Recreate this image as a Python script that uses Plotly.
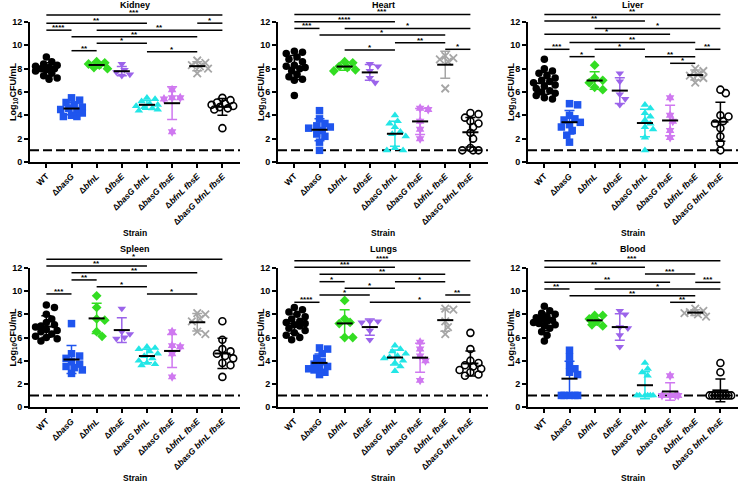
import math
import plotly.graph_objects as go

# ---------------- data ----------------
strains = ["WT", "Δ<i>basG</i>", "Δ<i>bfnL</i>", "Δ<i>fbsE</i>", "Δ<i>basG bfnL</i>",
           "Δ<i>basG fbsE</i>", "Δ<i>bfnL fbsE</i>", "Δ<i>basG bfnL fbsE</i>"]

kidney = [
    [9.0, 8.6, 8.4, 8.3, 8.2, 8.1, 8.0, 8.0, 7.9, 7.8, 7.6, 7.4, 7.2, 7.1],
    [5.5, 5.3, 5.1, 4.9, 4.7, 4.6, 4.5, 4.4, 4.2, 4.0, 3.9, 3.9],
    [8.6, 8.5, 8.4, 8.3, 8.1, 8.0],
    [8.4, 7.9, 7.7, 7.5, 7.4],
    [5.5, 5.4, 5.2, 5.0, 4.9, 4.8, 4.7, 4.6, 4.5, 4.4],
    [6.2, 5.5, 5.5, 5.4, 2.6],
    [8.7, 8.5, 8.3, 8.2, 8.0, 7.6],
    [5.5, 5.3, 5.1, 5.0, 4.9, 4.8, 4.7, 4.6, 4.5, 2.9],
]
heart = [
    [9.5, 9.4, 9.3, 9.0, 8.8, 8.6, 8.3, 8.2, 8.1, 8.0, 7.8, 7.5, 7.3, 7.1, 7.0, 5.7],
    [4.4, 3.7, 3.3, 3.1, 3.0, 2.9, 2.7, 2.4, 2.2, 1.7, 1.0],
    [8.6, 8.5, 8.2, 8.1, 7.9, 7.8],
    [8.4, 8.2, 7.8, 7.2, 6.8],
    [4.0, 3.5, 3.3, 3.0, 2.6, 2.4, 2.2, 1.2, 1.0, 1.0],
    [4.6, 4.5, 3.5, 2.8, 2.0],
    [9.1, 8.9, 8.8, 8.6, 6.3],
    [4.2, 4.1, 3.8, 3.5, 3.3, 3.0, 2.5, 2.0, 1.2, 1.0, 1.0, 1.0],
]
liver = [
    [8.8, 8.0, 7.8, 7.6, 7.4, 7.2, 7.0, 6.9, 6.8, 6.6, 6.5, 6.3, 6.1, 6.0, 5.9, 5.7, 5.5, 5.4],
    [5.0, 4.9, 4.0, 3.7, 3.6, 3.4, 3.2, 3.0, 2.7, 2.3, 1.7],
    [8.3, 7.2, 7.0, 6.8, 6.4, 6.2],
    [7.6, 6.9, 5.8, 5.4, 4.9],
    [4.9, 4.6, 4.2, 3.9, 3.6, 3.3, 3.0, 2.8, 2.1, 1.0],
    [5.5, 4.0, 3.5, 2.7, 2.1],
    [8.0, 7.8, 7.5, 7.4, 7.2, 6.8],
    [6.2, 5.9, 4.0, 3.9, 3.5, 3.3, 2.9, 2.2, 1.6, 1.0],
]
spleen = [
    [8.8, 8.6, 8.0, 7.6, 7.3, 7.1, 7.0, 6.9, 6.7, 6.6, 6.5, 6.3, 6.1, 6.0, 5.9, 5.7],
    [7.2, 4.6, 4.4, 4.2, 3.9, 3.7, 3.5, 3.4, 3.2, 2.9],
    [9.6, 8.6, 7.6, 7.5, 6.5, 6.1],
    [8.5, 6.5, 6.3, 6.0, 5.9],
    [5.2, 5.1, 5.0, 4.8, 4.6, 4.4, 4.2, 4.0, 3.8, 3.7, 3.6],
    [6.5, 5.3, 5.2, 4.6, 2.6],
    [8.1, 8.0, 7.6, 7.4, 6.5, 6.3],
    [7.4, 5.8, 5.0, 4.8, 4.6, 4.4, 4.2, 3.8, 3.6, 2.6],
]
lungs = [
    [8.6, 8.4, 8.2, 8.0, 7.8, 7.6, 7.4, 7.3, 7.2, 7.1, 7.0, 6.8, 6.6, 6.4, 6.2, 6.0, 5.8],
    [5.1, 5.0, 4.6, 4.2, 3.9, 3.7, 3.5, 3.4, 3.3, 3.2, 3.0, 2.8],
    [9.2, 7.6, 7.3, 7.2, 6.0, 6.0],
    [7.4, 7.4, 7.3, 6.6, 5.8],
    [5.3, 5.0, 4.8, 4.6, 4.4, 4.3, 4.2, 4.0, 3.8, 3.5, 3.1],
    [5.6, 5.0, 4.4, 4.0, 2.3],
    [8.5, 8.4, 7.4, 6.9, 6.3],
    [6.4, 5.0, 4.0, 3.8, 3.6, 3.5, 3.3, 3.2, 3.0, 2.8, 2.7],
]
blood = [
    [8.7, 8.3, 8.1, 8.0, 7.8, 7.7, 7.6, 7.5, 7.4, 7.3, 7.2, 7.1, 7.0, 6.8, 6.5, 6.2, 5.7],
    [4.9, 4.3, 3.6, 3.3, 3.0, 2.8, 1.0, 1.0, 1.0, 1.0, 1.0],
    [7.9, 7.9, 7.6, 7.4, 7.1, 7.0],
    [8.3, 8.0, 6.9, 6.8, 6.2, 5.2],
    [3.8, 3.3, 3.0, 2.7, 1.0, 1.0, 1.0, 1.0, 1.0, 1.0],
    [2.7, 1.0, 1.0, 1.0, 1.0],
    [8.5, 8.3, 8.2, 8.1, 8.0, 7.8],
    [3.8, 3.0, 1.0, 1.0, 1.0, 1.0, 1.0, 1.0, 1.0, 1.0, 1.0],
]

# significance comparisons: (group a, group b, bracket height in log10 units, label)
kidney_sig = [(0, 7, 12.6, "***"), (0, 4, 11.9, "**"), (6, 7, 11.9, "*"), (0, 1, 11.3, "****"),
              (2, 7, 11.3, "**"), (1, 6, 10.74, "**"), (2, 4, 10.17, "*"), (1, 2, 9.54, "**"),
              (4, 6, 9.46, "*")]
heart_sig = [(0, 7, 12.65, "***"), (0, 4, 12.03, "****"), (0, 1, 11.45, "***"), (2, 7, 11.45, "*"),
             (1, 6, 10.88, "*"), (4, 6, 10.22, "**"), (2, 4, 9.6, "*"), (6, 7, 9.66, "*")]
liver_sig = [(0, 7, 12.65, "**"), (0, 4, 12.08, "**"), (2, 7, 11.45, "*"), (0, 5, 10.94, "*"),
             (1, 6, 10.25, "**"), (0, 1, 9.66, "***"), (2, 4, 9.66, "*"), (6, 7, 9.66, "**"),
             (1, 2, 9.03, "*"), (4, 6, 9.03, "**"), (5, 6, 8.46, "*")]
spleen_sig = [(0, 7, 12.75, "*"), (0, 4, 12.18, "**"), (1, 6, 11.6, "**"), (1, 2, 10.97, "**"),
              (2, 4, 10.39, "*"), (0, 1, 9.76, "***"), (4, 6, 9.76, "*")]
lungs_sig = [(0, 7, 12.63, "****"), (0, 4, 12.06, "***"), (1, 6, 11.45, "**"), (1, 2, 10.82, "*"),
             (4, 6, 10.82, "*"), (2, 4, 10.25, "*"), (1, 3, 9.67, "*"), (6, 7, 9.67, "**"),
             (0, 1, 9.04, "****"), (3, 7, 9.04, "*")]
blood_sig = [(0, 7, 12.63, "***"), (0, 4, 12.06, "**"), (4, 6, 11.48, "***"), (0, 5, 10.76, "**"),
             (6, 7, 10.76, "***"), (0, 1, 10.19, "**"), (2, 7, 10.19, "*"), (1, 6, 9.61, "**"),
             (5, 6, 9.04, "**")]

titles = ["Kidney", "Heart", "Liver", "Spleen", "Lungs", "Blood"]
organs = [kidney, heart, liver, spleen, lungs, blood]
sigs = [kidney_sig, heart_sig, liver_sig, spleen_sig, lungs_sig, blood_sig]
detection_limit = 1.0
y_ticks = [0, 2, 4, 6, 8, 10, 12]

# ---------------- styles ----------------
W, H = 740, 483
FONT = "Liberation Sans"
colors = ["#000000", "#1f55ee", "#33dd22", "#9b63ea", "#22e6e6", "#cf78f0", "#a6a6a6", "#000000"]
symbols = ["circle", "square", "diamond", "triangle-down", "triangle-up", "hexagram",
           "x-thin", "circle-open"]
XR = [-0.65, 7.7]
col_px = [(30, 240), (278, 488), (528, 738)]
row_px = [(162, 22), (407, 268)]  # pixel of y=0 and y=12


def xdom(c):
    return [col_px[c][0] / W, col_px[c][1] / W]


def ydom(r):
    return [1 - row_px[r][0] / H, 1 - row_px[r][1] / H]


def ypaper(r, v):
    d0, d1 = ydom(r)
    return d0 + v / 12.0 * (d1 - d0)


CAT_PX = 210 / (XR[1] - XR[0])
UNIT_PX = 139.5 / 12


def swarm(vals, size_px=7.5):
    step = 2.7
    max_off = 11
    cands = [0.0]
    k = 1
    while k * step <= max_off:
        cands += [k * step, -k * step]
        k += 1
    placed = []
    offs = [0.0] * len(vals)
    for i in sorted(range(len(vals)), key=lambda j: -vals[j]):
        y = vals[i] * UNIT_PX
        best, bestd = 0.0, -1
        for c in cands:
            d = min((math.hypot(c - px, y - py) for px, py in placed), default=1e9)
            if d >= size_px * 0.85:
                best = c
                break
            if d > bestd:
                bestd, best = d, c
        placed.append((best, y))
        offs[i] = best / CAT_PX
    return offs


fig = go.Figure()
shapes = []
annotations = []
layout = {}

for p, (title, data, sig) in enumerate(zip(titles, organs, sigs)):
    r, c = divmod(p, 3)
    xid = "x" if p == 0 else f"x{p+1}"
    yid = "y" if p == 0 else f"y{p+1}"
    xkey = "xaxis" if p == 0 else f"xaxis{p+1}"
    ykey = "yaxis" if p == 0 else f"yaxis{p+1}"
    layout[xkey] = dict(domain=xdom(c), range=XR, anchor=yid, tickmode="array",
                        tickvals=list(range(len(strains))), ticktext=strains, tickangle=-45,
                        ticks="outside", ticklen=4, tickwidth=1.5, tickcolor="black",
                        showline=True, linewidth=2, linecolor="black", showgrid=False,
                        zeroline=False, fixedrange=True, automargin=False,
                        tickfont=dict(family=FONT, size=8.5, color="black", weight="bold"))
    layout[ykey] = dict(domain=ydom(r), range=[0, 12], anchor=xid, tickmode="array",
                        tickvals=y_ticks, ticks="outside", ticklen=4, tickwidth=1.5,
                        tickcolor="black", showline=True, linewidth=2, linecolor="black",
                        showgrid=False, zeroline=False, fixedrange=True, automargin=False,
                        tickfont=dict(family=FONT, size=9, color="black", weight="bold"))

    # limit of detection
    shapes.append(dict(type="line", xref=xid, yref=yid, x0=XR[0], x1=XR[1],
                       y0=detection_limit, y1=detection_limit, layer="below",
                       line=dict(color="black", width=2, dash="9px,4px")))

    mx, my = [], []
    for g, vals in enumerate(data):
        offs = swarm(vals)
        sym = symbols[g]
        mk = dict(symbol=sym, size=7.5, color=colors[g])
        if sym == "circle-open":
            mk = dict(symbol=sym, size=7, color=colors[g], line=dict(width=1.6, color=colors[g]))
        elif sym == "x-thin":
            mk = dict(symbol=sym, size=7.5, color=colors[g], line=dict(width=1.8, color=colors[g]))
        fig.add_trace(go.Scatter(x=[g + o for o in offs], y=vals, mode="markers", marker=mk,
                                 xaxis=xid, yaxis=yid, showlegend=False, hoverinfo="skip"))
        n = len(vals)
        m = sum(vals) / n
        sd = math.sqrt(sum((v - m) ** 2 for v in vals) / (n - 1))
        fig.add_trace(go.Scatter(x=[g], y=[m], mode="markers",
                                 marker=dict(size=1, color="rgba(0,0,0,0)"),
                                 error_y=dict(type="data", array=[sd], color=colors[g],
                                              thickness=1.5, width=5),
                                 xaxis=xid, yaxis=yid, showlegend=False, hoverinfo="skip"))
        mx += [g - 0.32, g + 0.32, None]
        my += [m, m, None]
    fig.add_trace(go.Scatter(x=mx, y=my, mode="lines", line=dict(color="black", width=2),
                             xaxis=xid, yaxis=yid, showlegend=False, hoverinfo="skip"))

    # significance brackets
    for a, b, h, lab in sig:
        yp = ypaper(r, h)
        shapes.append(dict(type="line", xref=xid, yref="paper", x0=a, x1=b, y0=yp, y1=yp,
                           line=dict(color="black", width=1.5)))
        annotations.append(dict(x=(a + b) / 2, y=yp, xref=xid, yref="paper", text=lab,
                                showarrow=False, yanchor="middle", yshift=2.5,
                                font=dict(family=FONT, size=8, color="black", weight="bold")))

    xc = (col_px[c][0] + col_px[c][1]) / 2 / W
    # panel title
    annotations.append(dict(x=xc, y=1 - ([5, 249][r]) / H, xref="paper", yref="paper",
                            text=title, showarrow=False, xanchor="center", yanchor="middle",
                            font=dict(family=FONT, size=9, color="black", weight="bold")))
    # x title
    annotations.append(dict(x=xc, y=1 - ([233, 478][r]) / H, xref="paper", yref="paper",
                            text="Strain", showarrow=False, xanchor="center", yanchor="middle",
                            font=dict(family=FONT, size=8.5, color="black", weight="bold")))
    # y title
    ymid = 1 - (row_px[r][0] + row_px[r][1]) / 2 / H
    annotations.append(dict(x=(col_px[c][0] - 17) / W, y=ymid, xref="paper", yref="paper",
                            text="Log<sub>10</sub>CFU/mL", textangle=-90, showarrow=False,
                            xanchor="center", yanchor="middle",
                            font=dict(family=FONT, size=9, color="black", weight="bold")))

fig.update_layout(width=W, height=H,
                  margin=dict(l=0, r=0, t=0, b=0, pad=0, autoexpand=False),
                  paper_bgcolor="white", plot_bgcolor="white",
                  shapes=shapes, annotations=annotations, **layout)

fig.write_html("out.html", config={"displayModeBar": False},
               post_script="document.body.style.margin='0px';document.body.style.overflow='hidden';")
